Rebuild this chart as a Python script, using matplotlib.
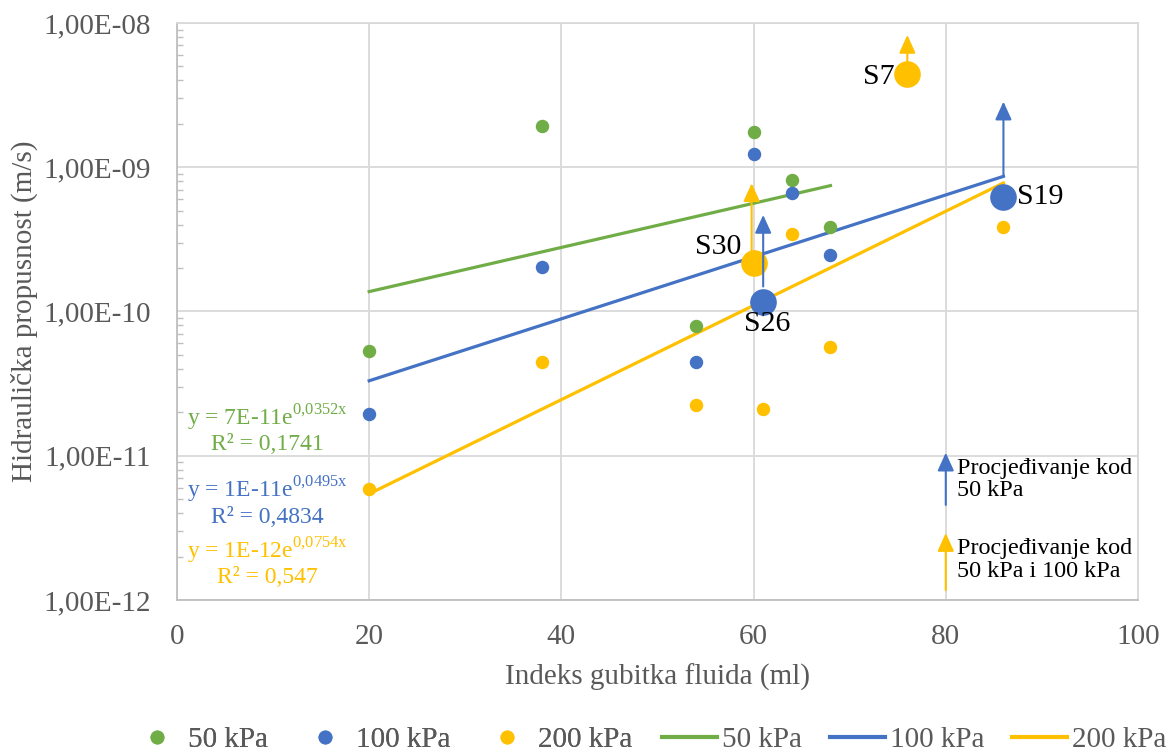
import numpy as np
import matplotlib.pyplot as plt
from matplotlib.lines import Line2D
from matplotlib.ticker import LogLocator, NullFormatter

plt.rcParams['font.family'] = ['Liberation Serif', 'DejaVu Serif']
plt.rcParams['mathtext.fontset'] = 'custom'
plt.rcParams['mathtext.rm'] = 'Liberation Serif'

# 50 kPa
x50 = [20, 38, 54, 60, 64, 68]
k50 = [5.3e-11, 1.93e-9, 7.9e-11, 1.75e-9, 8.1e-10, 3.84e-10]
# 100 kPa (obicne tocke + istaknute)
x100 = [20, 38, 54, 60, 64, 68]
k100 = [1.95e-11, 2.03e-10, 4.47e-11, 1.23e-9, 6.6e-10, 2.46e-10]
x100_big = [86, 61]
k100_big = [6.2e-10, 1.16e-10]
names100 = ['S19', 'S26']
# 200 kPa
x200 = [20, 38, 54, 61, 64, 68, 86]
k200 = [5.9e-12, 4.47e-11, 2.25e-11, 2.1e-11, 3.43e-10, 5.65e-11, 3.84e-10]
x200_big = [76, 60]
k200_big = [4.43e-9, 2.18e-10]
names200 = ['S7', 'S30']

# strelice (procjedivanje)
arr_x = [76, 86, 61, 59.8]
arr_from = [4.43e-9, 8.55e-10, 1.49e-10, 2.18e-10]
arr_to = [8.26e-9, 2.85e-9, 4.67e-10, 7.74e-10]
arr_ser = ['200', '100', '100', '200']
key_x = [80, 80]
key_from = [4.56e-12, 1.17e-12]
key_to = [1.05e-11, 2.91e-12]
key_ser = ['100', '200']
key_text = ['Procjeđivanje kod\n50 kPa', 'Procjeđivanje kod\n50 kPa i 100 kPa']

eq_text = [(r'y = 7E-11e$^{\mathrm{0{,}0352x}}$', 'R² = 0,1741'),
           (r'y = 1E-11e$^{\mathrm{0{,}0495x}}$', 'R² = 0,4834'),
           (r'y = 1E-12e$^{\mathrm{0{,}0754x}}$', 'R² = 0,547')]

xticks = [0, 20, 40, 60, 80, 100]
yticks = [1e-12, 1e-11, 1e-10, 1e-9, 1e-8]
ylabels = ['1,00E-12', '1,00E-11', '1,00E-10', '1,00E-09', '1,00E-08']

green = '#70AD47'
blue = '#4472C4'
yellow = '#FFC000'
col = {'50': green, '100': blue, '200': yellow}
grey = '#595959'

fig = plt.figure(figsize=(11.68, 7.51), dpi=100)
ax = fig.add_axes([0.1515, 0.2011, 0.8228, 0.7683])
ax.set_yscale('log')
ax.set_xlim(0, 100)
ax.set_ylim(1e-12, 1e-8)

# tocke
ax.scatter(x50, k50, s=75, color=green, zorder=3)
ax.scatter(x100, k100, s=75, color=blue, zorder=3)
ax.scatter(x200, k200, s=75, color=yellow, zorder=3)
ax.scatter(x100_big, k100_big, s=330, color=blue, zorder=4)
ax.scatter(x200_big, k200_big, s=330, color=yellow, zorder=4)

# eksponencijalni trendovi
series = [(x50, k50, green),
          (x100 + x100_big, k100 + k100_big, blue),
          (x200 + x200_big, k200 + k200_big, yellow)]
for xs, ks, c in series:
    xs = np.array(xs, dtype=float)
    b, a = np.polyfit(xs, np.log(ks), 1)
    xl = np.array([xs.min(), xs.max()])
    ax.plot(xl, np.exp(a + b * xl), color=c, lw=2.3, zorder=2)

astyle = '-|>,head_length=0.55,head_width=0.25'
for x, y0, y1, s in zip(arr_x, arr_from, arr_to, arr_ser):
    ax.annotate('', xy=(x, y1), xytext=(x, y0),
                arrowprops=dict(arrowstyle=astyle, color=col[s], lw=1.5,
                                shrinkA=0, shrinkB=0, mutation_scale=20), zorder=5)
for x, y0, y1, s, t in zip(key_x, key_from, key_to, key_ser, key_text):
    ax.annotate('', xy=(x, y1), xytext=(x, y0),
                arrowprops=dict(arrowstyle=astyle, color=col[s], lw=1.5,
                                shrinkA=0, shrinkB=0, mutation_scale=20), zorder=5)
    ax.text(x + 1.2, y1 * 0.92, t, fontsize=17.4, va='top', ha='left', linespacing=1.1)

# oznake uzoraka
offs = {'S19': (10, 0, 'left', 'center'), 'S26': (3, -16, 'center', 'center'),
        'S7': (-9, -2, 'right', 'center'), 'S30': (-9, 11, 'right', 'center')}
for xs, ks, ns in [(x100_big, k100_big, names100), (x200_big, k200_big, names200)]:
    for x, k, n in zip(xs, ks, ns):
        dx, dy, ha, va = offs[n]
        ax.annotate(n, (x, k), xytext=(dx, dy), textcoords='offset points',
                    ha=ha, va=va, fontsize=21.5, zorder=6)

# jednadzbe trendova
eq_y = [(0.3154, 0.2686), (0.1906, 0.1438), (0.0849, 0.0381)]
for (e, r), (y1, y2), c in zip(eq_text, eq_y, [green, blue, yellow]):
    ax.text(0.094, y1, e, transform=ax.transAxes, color=c, fontsize=17,
            ha='center', va='center')
    ax.text(0.094, y2, r, transform=ax.transAxes, color=c, fontsize=17,
            ha='center', va='center')

# osi i mreza
ax.set_xticks(xticks)
ax.set_yticks(yticks, labels=ylabels)
ax.yaxis.set_minor_locator(LogLocator(base=10, subs=np.arange(2, 10)))
ax.yaxis.set_minor_formatter(NullFormatter())
ax.tick_params(axis='both', which='major', length=0, labelsize=21, labelcolor=grey)
ax.tick_params(axis='y', which='major', pad=19)
ax.tick_params(axis='x', which='major', pad=17)
ax.tick_params(axis='y', which='minor', direction='in', length=4, color='#bfbfbf', width=1)
ax.grid(True, which='major', color='#d9d9d9', lw=1.3)
ax.set_axisbelow(True)
for side, sp in ax.spines.items():
    sp.set_color('#bfbfbf' if side in ('left', 'bottom') else '#d9d9d9')
    sp.set_linewidth(1.3)
ax.set_xlabel('Indeks gubitka fluida (ml)', fontsize=21, color=grey, labelpad=10)
ax.set_ylabel('Hidraulička propusnost (m/s)', fontsize=21, color=grey, labelpad=4)

# legende
h1 = [Line2D([], [], ls='', marker='o', ms=9, color=c) for c in (green, blue, yellow)]
h2 = [Line2D([], [], lw=3, color=c) for c in (green, blue, yellow)]
lab = ['50 kPa', '100 kPa', '200 kPa']
leg1 = fig.legend(h1, lab, loc='center left', bbox_to_anchor=(0.1019, 0.0146), ncol=3,
                  frameon=False, fontsize=21, handlelength=0.8, handletextpad=0.66,
                  columnspacing=1.55, labelcolor=grey)
fig.legend(h2, lab, loc='center left', bbox_to_anchor=(0.5443, 0.0146), ncol=3,
           frameon=False, fontsize=21, handlelength=1.88, handletextpad=0.17,
           columnspacing=0.96, labelcolor=grey)
fig.add_artist(leg1)

fig.savefig('out.png', dpi=100)
